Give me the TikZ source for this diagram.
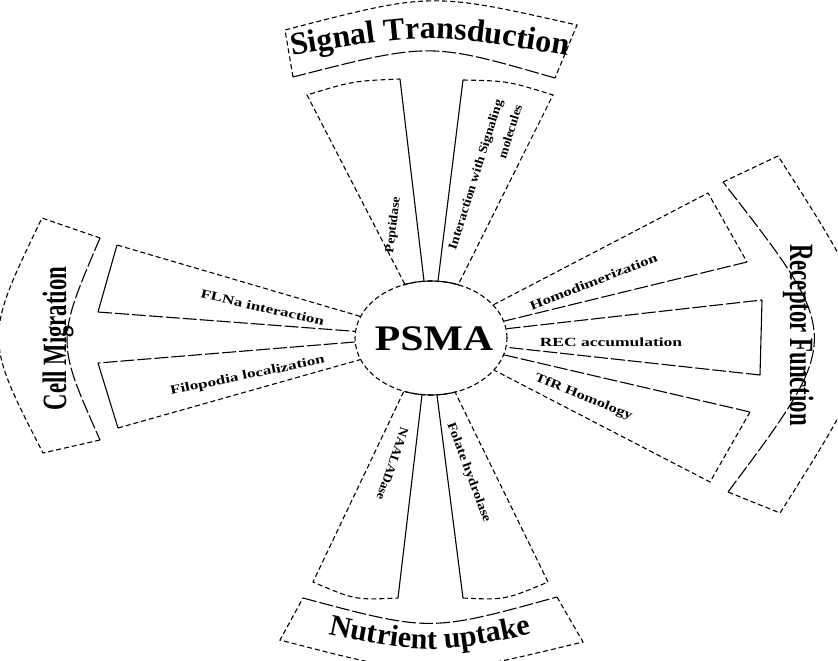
\documentclass[tikz,border=0pt]{standalone}
\usepackage{graphicx}
\usepackage{fontspec}
\setmainfont{Liberation Serif}
\usetikzlibrary{shapes.geometric,decorations.text}
\begin{document}
\begin{tikzpicture}[x=1pt,y=-1pt,
  lw/.style={line width=1.1pt},
  dsh/.style={lw, dash pattern=on 5pt off 3pt},
  ldsh/.style={lw, dash pattern=on 14pt off 3pt},
  sld/.style={lw},
  lbl/.style={font=\fontsize{12.5}{14}\selectfont\bfseries, inner sep=0pt},
  ttl/.style={font=\fontsize{34}{34}\selectfont\bfseries, inner sep=0pt, anchor=base},
]
\useasboundingbox (0,0) rectangle (838,661);

% centre
\node[draw, dsh, ellipse, minimum width=152pt, minimum height=114pt, inner sep=0pt] (psma) at (431,338) {};
\node[font=\fontsize{36}{36}\selectfont\bfseries, inner sep=0pt] (psmat) at (434,338.5) {\scalebox{1.16}[1]{PSMA}};
\begin{scope}
  \clip (403,265) rectangle (459,300);
  \draw[sld] (psma.center) ellipse [x radius=76, y radius=57];
\end{scope}
\begin{scope}
  \clip (405,380) rectangle (457,410);
  \draw[sld] (psma.center) ellipse [x radius=76, y radius=57];
\end{scope}

% ---------- Signal Transduction ----------
\coordinate (stTL) at (285,30);
\coordinate (stTR) at (577,25);
\coordinate (stBR) at (555,78);
\coordinate (stBL) at (293,77);
\draw[dsh] (stBL) -- (stTL) .. controls (431,-8) .. (stTR) -- (stBR);
\draw[ldsh] (stBR) .. controls (430,42) .. (stBL);
\path[decorate, decoration={text along path, text={|\fontsize{32}{32}\selectfont\bfseries|Signal Transduction}, text align=center}]
  (280,58) .. controls (430,32) .. (580,58);

\coordinate (pepOL) at (307,95);
\coordinate (pepOR) at (400,79);
\draw[dsh] (psma.116.6) -- (pepOL) .. controls (353,81) .. (pepOR);
\draw[sld] (pepOR) -- (psma.97.5);
\coordinate (intOL) at (463,80);
\coordinate (intOR) at (553,95);
\draw[sld] (psma.83.9) -- (intOL);
\draw[dsh] (intOL) .. controls (508,81) .. (intOR) -- (psma.63.4);

\node[lbl, rotate=83] (pep) at (393.5,225) {\scalebox{1.09}[1]{Peptidase}};
\node[lbl, rotate=72.6] (int1) at (476.5,175) {\scalebox{1.12}[1]{Interaction with Signaling}};
\node[lbl, rotate=72.6] (int2) at (510,131.5) {\scalebox{1.06}[1]{molecules}};

% ---------- Receptor Function ----------
\coordinate (rfTL) at (723,182);
\coordinate (rfTR) at (778,156);
\coordinate (rfBR) at (780,513);
\coordinate (rfBL) at (728,492);
\draw[dsh] (rfTL) -- (rfTR) .. controls (893,335) .. (rfBR) -- (rfBL);
\draw[ldsh] (rfBL) .. controls (844,337) .. (rfTL);
\node[ttl, rotate=-90] (rf) at (790,335) {\scalebox{0.67}[1]{Receptor Function}};

\coordinate (hoT) at (708,193);
\coordinate (hoB) at (747,262);
\draw[dsh] (psma.28.6) -- (hoT) -- (hoB);
\draw[ldsh] (hoB) -- (psma.13.7);
\coordinate (reT) at (762,300);
\coordinate (reB) at (760,375);
\draw[ldsh] (psma.7.7) -- (reT);
\draw[sld] (reT) -- (reB);
\draw[ldsh] (reB) -- (psma.353.1);
\coordinate (tfT) at (750,412);
\coordinate (tfB) at (710,482);
\draw[ldsh] (psma.347.4) -- (tfT);
\draw[dsh] (tfT) -- (tfB) -- (psma.333.1);

\node[lbl, rotate=21.5] (homo) at (593.5,281.7) {\scalebox{1.35}[1]{Homodimerization}};
\node[lbl] (rec) at (611,342) {\scalebox{1.4}[1]{REC accumulation}};
\node[lbl, rotate=-21.9] (tfr) at (583.5,397.5) {\scalebox{1.31}[1]{TfR Homology}};

% ---------- Cell Migration ----------
\coordinate (cmTL) at (42,218);
\coordinate (cmTR) at (100,238);
\coordinate (cmBR) at (100,440);
\coordinate (cmBL) at (43,453);
\draw[dsh] (cmBR) -- (cmBL) .. controls (-16,338) .. (cmTL) -- (cmTR);
\draw[ldsh] (cmTR) .. controls (56,341) .. (cmBR);
\node[ttl, rotate=90] (cm) at (66,338.5) {\scalebox{0.67}[1]{Cell Migration}};

\coordinate (flT) at (117,245);
\coordinate (flB) at (98,312);
\draw[dsh] (psma.163.6) -- (flT);
\draw[sld] (flT) -- (flB);
\draw[ldsh] (flB) -- (psma.175.7);
\coordinate (fiT) at (98,363);
\coordinate (fiB) at (118,428);
\draw[ldsh] (psma.183.6) -- (fiT);
\draw[sld] (fiT) -- (fiB);
\draw[dsh] (fiB) -- (psma.197.6);

\node[lbl, rotate=-13] (fln) at (262.5,307.5) {\scalebox{1.36}[1]{FLNa interaction}};
\node[lbl, rotate=11.7] (fil) at (247.5,376) {\scalebox{1.37}[1]{Filopodia localization}};

% ---------- Nutrient uptake ----------
\coordinate (naL) at (313,582);
\coordinate (naR) at (398,598);
\draw[dsh] (psma.243.8) -- (naL) .. controls (355,600) .. (naR);
\draw[sld] (naR) -- (psma.261.7);
\coordinate (foL) at (463,598);
\coordinate (foR) at (548,582);
\draw[sld] (psma.276.1) -- (foL);
\draw[dsh] (foL) .. controls (505,600) .. (foR) -- (psma.294.5);

\node[lbl, rotate=-109] (naa) at (392.5,464) {\scalebox{1.08}[1]{NAALADase}};
\node[lbl, rotate=-69.5] (fol) at (468.5,472.5) {\scalebox{1.19}[1]{Folate hydrolase}};

\coordinate (nuTL) at (303,598);
\coordinate (nuTR) at (557,597);
\coordinate (nuBR) at (583,642);
\coordinate (nuBL) at (280,640);
\draw[ldsh] (nuTL) .. controls (430,632) .. (nuTR);
\draw[dsh] (nuTR) -- (nuBR) .. controls (430,679) .. (nuBL) -- (nuTL);
\path[decorate, decoration={text along path, text={|\fontsize{30}{30}\selectfont\bfseries|Nutrient uptake}, text align=center}]
  (300,628) .. controls (430,656) .. (560,628);
\end{tikzpicture}
\end{document}
